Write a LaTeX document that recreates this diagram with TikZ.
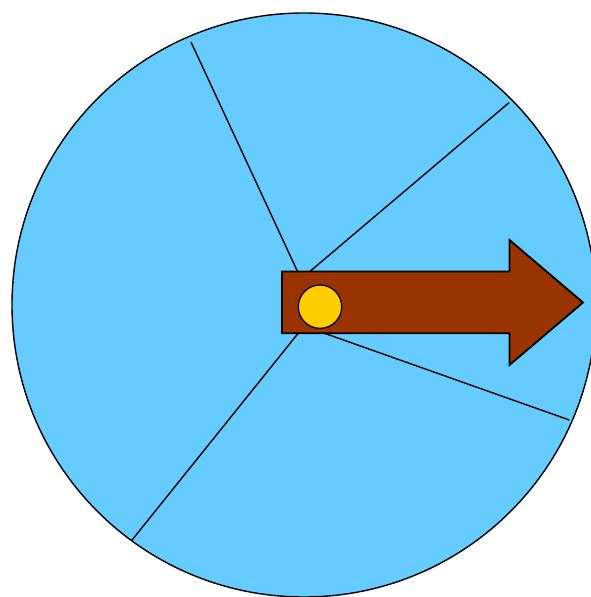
\documentclass[tikz,border=0pt]{standalone}
\usepackage{tikz}
\usepackage{xcolor}
\usetikzlibrary{calc}

\definecolor{dialblue}{HTML}{66CCFF}
\definecolor{pointerbrown}{HTML}{993300}
\definecolor{pivotyellow}{HTML}{FFCC00}

\begin{document}
\begin{tikzpicture}[x=1pt, y=1pt, line join=miter]
\useasboundingbox (0,0) rectangle (590,597);
\coordinate (c) at (304,292);
\coordinate (ht) at (301,318);
\coordinate (hb) at (304,271);
\coordinate (s1) at (191,555);
\coordinate (s2) at (509,494.3);
\coordinate (s3) at (569.3,177);
\coordinate (s4) at ($(c)+(-126.2:292)$);

% dial
\draw[fill=dialblue, line width=1.4pt] (c) circle (292);

% spokes
\draw[line width=1.4pt] (ht) -- (s1);
\draw[line width=1.4pt] (ht) -- (s2);
\draw[line width=1.4pt] (hb) -- (s3);
\draw[line width=1.4pt] (hb) -- (s4);

% pointer
\draw[fill=pointerbrown, line width=1.8pt] (282,325.5) -- (509.5,325.5) -- (509.5,357)
  -- (583,294.5) -- (509.5,232) -- (509.5,263.7) -- (282,263.7) -- cycle;
\draw[fill=pivotyellow, line width=1.3pt] (320,290.3) circle (21.7);
\end{tikzpicture}
\end{document}
